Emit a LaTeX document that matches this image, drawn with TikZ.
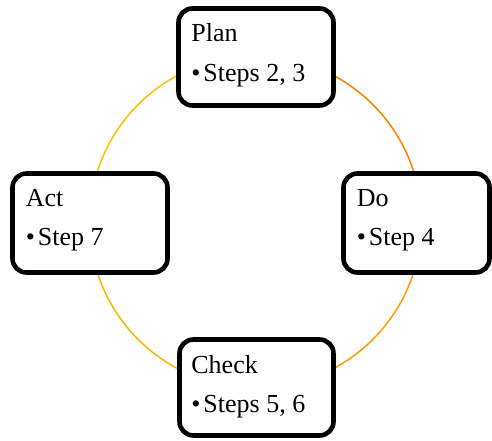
\documentclass[tikz,border=0pt]{standalone}
\usepackage{fontspec}
\setmainfont{Liberation Serif}
\usetikzlibrary{calc}
\definecolor{cUL}{HTML}{FFC000}
\definecolor{cUR}{HTML}{FF8000}
\definecolor{cLR}{HTML}{FF9A00}
\definecolor{cLL}{HTML}{FFB200}
\newcommand{\bul}{•\hspace{3pt}}
\tikzset{
  box/.style={draw=black, line width=4.6pt, rounded corners=14pt, fill=white, inner sep=0pt},
  txt/.style={anchor=base west, inner sep=0pt, font=\fontsize{26}{30}\selectfont},
  ring/.style={line width=1.5pt},
}
\begin{document}
\begin{tikzpicture}[x=1pt,y=1pt]
\useasboundingbox (0,0) rectangle (492,440);
\coordinate (o) at (255.5,218);
\draw[ring,cUR] ($(o)+(90:166)$) arc (90:0:166);
\draw[ring,cLR] ($(o)+(0:166)$) arc (0:-90:166);
\draw[ring,cLL] ($(o)+(-90:166)$) arc (-90:-180:166);
\draw[ring,cUL] ($(o)+(180:166)$) arc (180:90:166);
\node[box, minimum width=155pt, minimum height=97pt] (plan) at (256,383) {};
\node[box, minimum width=155pt, minimum height=99pt] (act) at (90,217) {};
\node[box, minimum width=146pt, minimum height=99pt] (do) at (416.5,217) {};
\node[box, minimum width=154pt, minimum height=96pt] (check) at (256.5,52.5) {};
\node[txt] (plan1) at ($(plan.north west)+(15,-35)$) {Plan};
\node[txt] (plan2) at ($(plan.north west)+(15,-75)$) {\bul Steps 2, 3};
\node[txt] (act1) at ($(act.north west)+(15.5,-35)$) {Act};
\node[txt] (act2) at ($(act.north west)+(15.5,-74)$) {\bul Step 7};
\node[txt] (do1) at ($(do.north west)+(15.5,-35)$) {Do};
\node[txt] (do2) at ($(do.north west)+(15.5,-74)$) {\bul Step 4};
\node[txt] (check1) at ($(check.north west)+(14,-36)$) {Check};
\node[txt] (check2) at ($(check.north west)+(14,-75)$) {\bul Steps 5, 6};
\end{tikzpicture}
\end{document}
